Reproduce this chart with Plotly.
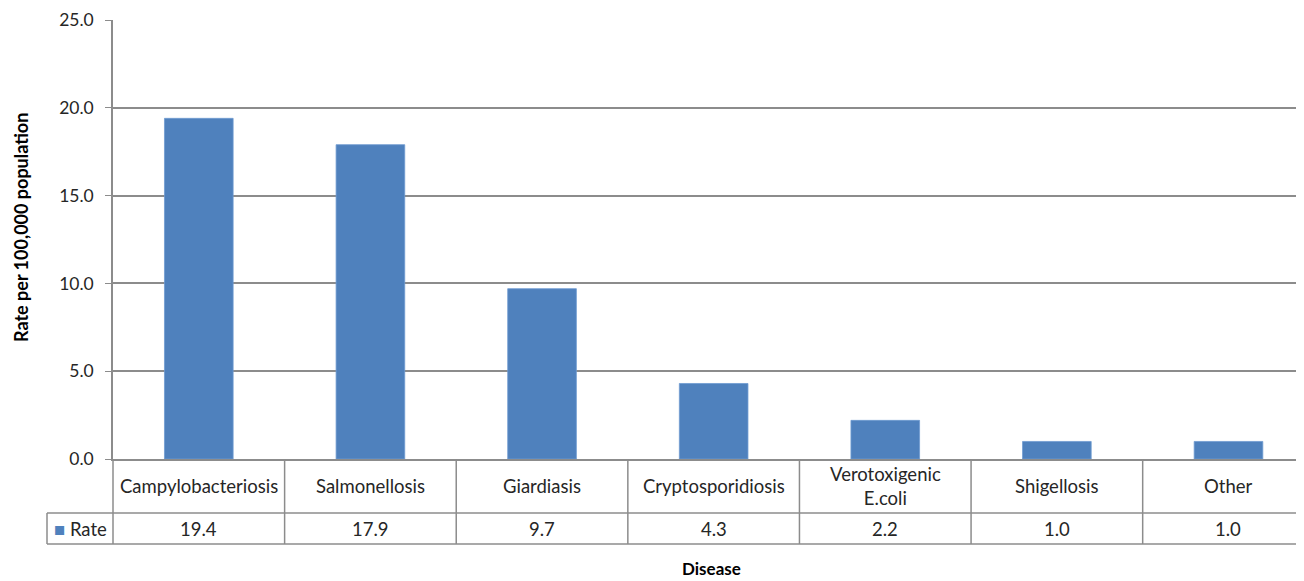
import plotly.graph_objects as go

categories = ["Campylobacteriosis", "Salmonellosis", "Giardiasis", "Cryptosporidiosis",
              "Verotoxigenic<br>E.coli", "Shigellosis", "Other"]
rates = [19.4, 17.9, 9.7, 4.3, 2.2, 1.0, 1.0]
series_name = "Rate"
y_ticks = [0, 5, 10, 15, 20, 25]

BAR = "#4F81BD"
LINE = "#8C8C8C"
FONT = "Lato, Carlito, Calibri, sans-serif"
TXT = "#262626"

# page has an 8px body margin; compensate so the plot lands where the reference has it
OFF = 8
W, H = 1304 - OFF, 581 - OFF
ML, MT = 113 - OFF, 20 - OFF
MR = 0
MB = H - (459 - OFF)
plot_w = W - ML - MR
plot_h = H - MT - MB
xr = [-0.5, 6.44]

def px_x(v):
    return (v - xr[0]) / (xr[1] - xr[0])

def wx(X):  # window pixel x -> paper x
    return (X - 113) / plot_w

def wy(Y):  # window pixel y -> paper y
    return (459 - Y) / plot_h

row1 = wy(513)   # bottom of category row
row2 = wy(544)   # bottom of value row
leftcol = wx(47)

fig = go.Figure()
fig.add_trace(go.Bar(x=list(range(len(categories))), y=rates, name=series_name,
                     marker=dict(color=BAR, line=dict(color="#6E9AD0", width=0.8)),
                     width=0.4, showlegend=False, hoverinfo="skip"))

shapes = []
for i in range(len(categories) + 1):
    xb = px_x(i - 0.5)
    if xb > 1.0001:
        continue
    shapes.append(dict(type="line", xref="paper", yref="paper", x0=xb, x1=xb,
                       y0=0, y1=row2, line=dict(color=LINE, width=1.5)))
for yy in (row1, row2):
    shapes.append(dict(type="line", xref="paper", yref="paper", x0=leftcol, x1=1,
                       y0=yy, y1=yy, line=dict(color=LINE, width=1.5)))
shapes.append(dict(type="line", xref="paper", yref="paper", x0=leftcol, x1=leftcol,
                   y0=row1, y1=row2, line=dict(color=LINE, width=1.5)))

annotations = []
for i, (c, v) in enumerate(zip(categories, rates)):
    annotations.append(dict(xref="paper", yref="paper", x=px_x(i), y=(0 + row1) / 2,
                            text=c, showarrow=False, xanchor="center", yanchor="middle",
                            font=dict(family=FONT, size=18.5, color=TXT)))
    annotations.append(dict(xref="paper", yref="paper", x=px_x(i), y=(row1 + row2) / 2,
                            text=f"{v:.1f}", showarrow=False, xanchor="center", yanchor="middle",
                            font=dict(family=FONT, size=18.5, color=TXT)))
annotations.append(dict(xref="paper", yref="paper", x=wx(52), y=(row1 + row2) / 2,
                        text=f"<span style='color:{BAR}'>■</span> {series_name}", showarrow=False,
                        xanchor="left", yanchor="middle",
                        font=dict(family=FONT, size=18.5, color=TXT)))
annotations.append(dict(xref="paper", yref="paper", x=wx(711), y=wy(581),
                        text="<b>Disease</b>", showarrow=False, xanchor="center", yanchor="bottom",
                        font=dict(family=FONT, size=17, color="#000000")))
annotations.append(dict(xref="paper", yref="paper", x=wx(21), y=wy(228),
                        text="<b>Rate per 100,000 population</b>", showarrow=False, textangle=-90,
                        xanchor="center", yanchor="middle",
                        font=dict(family=FONT, size=18, color="#000000")))

fig.update_layout(
    width=W, height=H,
    margin=dict(l=ML, r=MR, t=MT, b=MB),
    paper_bgcolor="white", plot_bgcolor="white",
    shapes=shapes, annotations=annotations,
    xaxis=dict(range=xr, showticklabels=False, showgrid=False, zeroline=False,
               showline=True, linecolor=LINE, linewidth=1.5, ticks=""),
    yaxis=dict(range=[0, 25], tickvals=y_ticks, tickformat=".1f", showgrid=True,
               gridcolor=LINE, gridwidth=1.5, zeroline=False, showline=True,
               linecolor=LINE, linewidth=1.5, ticks="outside", ticklen=6, tickcolor=LINE,
               ticklabelstandoff=8,
               tickfont=dict(family=FONT, size=17.5, color=TXT)),
)

fig.write_html("out.html", config={"displayModeBar": False})
